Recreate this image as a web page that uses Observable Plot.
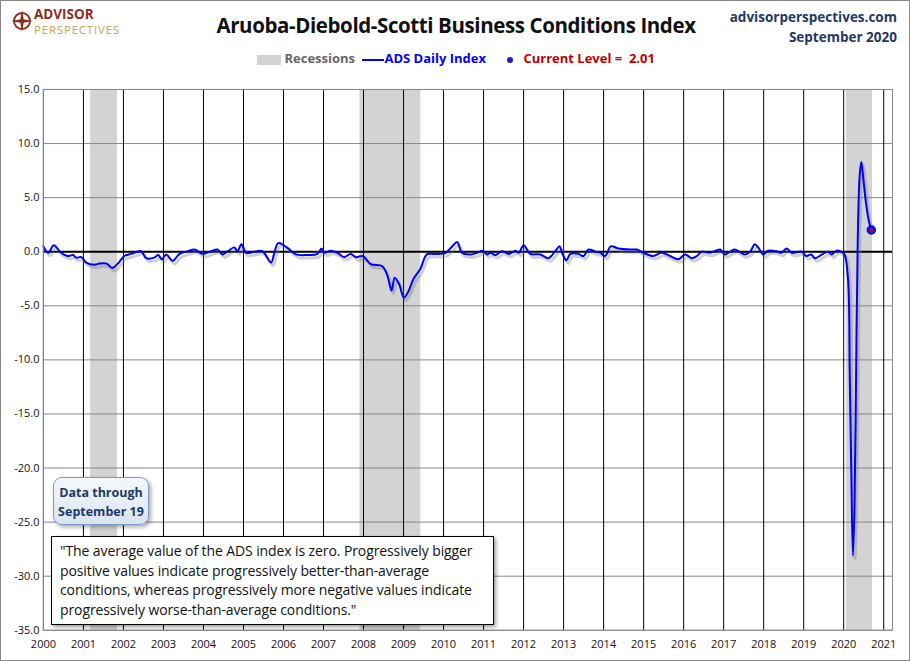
<!DOCTYPE html>
<html><head><meta charset="utf-8">
<script src="https://cdn.jsdelivr.net/npm/d3@7"></script>
<script src="https://cdn.jsdelivr.net/npm/@observablehq/plot@0.6"></script>
<style>
body{margin:0;background:#fff;font-family:"Open Sans",sans-serif;}
#wrap{position:relative;width:908px;height:659px;border:1px solid #888;overflow:hidden;background:#fff;}
.abs{position:absolute;}
#title{left:0;width:910px;top:10px;text-align:center;font-size:20.5px;font-weight:bold;color:#111;font-family:"Open Sans";letter-spacing:-0.4px;}
#site{right:12px;top:6px;text-align:right;color:#1F3864;font-weight:bold;font-size:13.5px;line-height:20px;}
#logo{left:10px;top:8px;}
#lg1{left:33px;top:6px;font-weight:bold;font-size:13.5px;color:#8B2E1E;line-height:15px;}
#lg2{left:33px;top:22px;font-size:11.5px;color:#C5A253;line-height:13px;letter-spacing:0.8px;}
#legend{top:48px;left:0;width:910px;text-align:center;font-size:13px;font-weight:bold;}
#chart{left:0;top:78px;}
#dt{left:52px;top:476px;width:96px;height:48px;border:1px solid #7a9cc6;border-radius:9px;background:linear-gradient(#f4f8fc,#d9e4f1);box-shadow:2px 2px 4px rgba(0,0,0,.35);color:#1F3864;font-weight:bold;font-size:12.5px;text-align:center;line-height:19px;padding-top:5px;box-sizing:border-box;}
#quote{left:50px;top:535px;width:443px;height:89px;border:1px solid #000;background:#fff;box-shadow:2px 2px 4px rgba(0,0,0,.4);font-size:14px;line-height:19.5px;padding:4px 8px;box-sizing:border-box;color:#111;letter-spacing:-0.1px;}
</style></head><body>
<div id="wrap">
<div id="logo" class="abs"><svg width="22" height="24"><circle cx="11" cy="12" r="8" fill="none" stroke="#8B2E1E" stroke-width="2"/><path d="M11 1 L13 12 L11 23 L9 12Z M0 12 L11 10 L22 12 L11 14Z" fill="#8B2E1E"/></svg></div>
<div id="lg1" class="abs">ADVISOR</div>
<div id="lg2" class="abs">PERSPECTIVES</div>
<div id="title" class="abs">Aruoba-Diebold-Scotti Business Conditions Index</div>
<div id="site" class="abs">advisorperspectives.com<br>September 2020</div>
<div id="legend" class="abs"><span style="display:inline-block;width:24px;height:10px;background:#d3d3d3;vertical-align:middle"></span> <span style="color:#666">Recessions</span> <span style="display:inline-block;width:22px;height:2px;background:#00f;vertical-align:middle;margin-left:4px"></span><span style="color:#00f">ADS Daily Index</span> <span style="display:inline-block;width:6px;height:6px;border-radius:50%;background:#2020c0;vertical-align:middle;margin:0 10px 0 18px"></span><span style="color:#C00000">Current Level = &nbsp;2.01</span></div>
<div id="chart" class="abs"></div>
<div id="dt" class="abs">Data through<br>September 19</div>
<div id="quote" class="abs">"The average value of the ADS index is zero. Progressively bigger positive values indicate progressively better-than-average conditions, whereas progressively more negative values indicate progressively worse-than-average conditions."</div>
</div>
<script>
const dates = [2000.0,2000.12,2000.26,2000.44,2000.61,2000.74,2000.82,2000.95,2001.07,2001.28,2001.40,2001.58,2001.72,2001.86,2002.02,2002.19,2002.44,2002.57,2002.77,2002.87,2002.96,2003.07,2003.23,2003.39,2003.61,2003.78,2003.98,2004.19,2004.35,2004.48,2004.61,2004.77,2004.85,2004.95,2005.06,2005.27,2005.47,2005.69,2005.77,2005.87,2006.10,2006.31,2006.61,2006.85,2006.95,2007.02,2007.18,2007.35,2007.51,2007.68,2007.81,2007.98,2008.18,2008.47,2008.60,2008.70,2008.78,2008.89,2009.01,2009.13,2009.25,2009.42,2009.58,2009.76,2009.93,2010.05,2010.22,2010.34,2010.46,2010.68,2010.84,2010.97,2011.09,2011.17,2011.30,2011.46,2011.63,2011.80,2011.88,2012.00,2012.17,2012.42,2012.62,2012.80,2012.90,2012.96,2013.07,2013.17,2013.37,2013.50,2013.62,2013.80,2013.92,2014.04,2014.18,2014.37,2014.67,2014.83,2015.00,2015.24,2015.45,2015.66,2015.87,2016.04,2016.20,2016.33,2016.45,2016.65,2016.91,2017.03,2017.16,2017.28,2017.53,2017.66,2017.78,2017.87,2017.99,2018.11,2018.32,2018.44,2018.57,2018.70,2018.95,2019.07,2019.19,2019.28,2019.48,2019.61,2019.70,2019.82,2019.94,2020.02,2020.11,2020.15,2020.19,2020.23,2020.27,2020.31,2020.35,2020.40,2020.44,2020.48,2020.56,2020.63,2020.69];
const values = [0.5,-0.1,0.6,-0.1,-0.4,-0.3,-0.55,-0.5,-1.0,-1.2,-1.1,-1.1,-1.5,-1.1,-0.4,-0.2,0.05,-0.6,-0.55,-0.3,-0.7,-0.25,-0.85,-0.25,0.05,0.2,-0.2,0.05,0.2,-0.25,0.05,0.4,0.05,0.7,-0.1,0,0.05,-1.0,-0.1,0.8,0.35,-0.25,-0.3,-0.2,0.3,-0.1,0.1,-0.1,-0.5,-0.2,-0.5,-0.4,-1.15,-1.35,-2.25,-3.6,-2.4,-3.0,-4.25,-3.6,-2.5,-1.6,-0.25,-0.2,-0.2,-0.1,0.5,0.9,-0.1,-0.25,-0.1,0.1,-0.25,-0.1,-0.3,0.05,-0.2,0.1,-0.1,0.6,-0.2,-0.25,-0.6,0.1,0.5,-0.1,-0.8,-0.2,-0.2,-0.4,0.2,0,-0.1,-0.4,0.5,0.3,0.2,0.2,-0.1,-0.4,-0.1,-0.4,-0.7,-0.25,-0.6,-0.4,0,-0.1,0.2,-0.25,0,0.2,-0.25,0,0.7,0.35,-0.25,0.1,0.05,-0.1,0.3,-0.1,0,-0.4,-0.25,-0.6,-0.2,0,-0.25,0.1,0.0,-0.25,-2.7,-11.3,-20.5,-28.1,-23.6,-11.3,1.0,7.1,8.3,7.1,4.4,2.8,2.01];
const recStart = [2001.18,2007.91,2020.07];
const recEnd = [2001.85,2009.43,2020.72];
const yearTicks = d3.range(2000,2022);
const yTicks = d3.range(-35,16,5);

const data = dates.map((d,i)=>({x:d,y:values[i]}));
const rec = recStart.map((s,i)=>({x1:s,x2:recEnd[i]}));
const last = data[data.length-1];

const chart = Plot.plot({
  width:910,height:580,marginLeft:42,marginRight:17,marginTop:10,marginBottom:28,
  style:{fontFamily:"Open Sans",fontSize:"11px",color:"#111"},
  x:{domain:[2000,2021.22],ticks:yearTicks,tickFormat:d=>String(d),tickSize:0,tickPadding:10,label:null},
  y:{domain:[-35,15],ticks:yTicks,tickFormat:d=>d.toFixed(1),tickSize:0,tickPadding:4,label:null},
  marks:[
    Plot.rectX(rec,{x1:"x1",x2:"x2",y1:-35,y2:15,fill:"#d3d3d3"}),
    Plot.ruleY(yTicks,{stroke:"#888",strokeWidth:1}),
    Plot.ruleX(yearTicks,{stroke:"#000",strokeWidth:1}),
    Plot.ruleY([0],{stroke:"#000",strokeWidth:2}),
    Plot.line(data,{x:"x",y:"y",stroke:"#777",strokeOpacity:0.35,strokeWidth:3,dx:2,dy:3,curve:"catmull-rom"}),
    Plot.line(data,{x:"x",y:"y",stroke:"#0000ff",strokeWidth:2,curve:"catmull-rom"}),
    Plot.dot([last],{x:"x",y:"y",r:4,fill:"#2020c0",stroke:"#0000ff"}),
    Plot.dot([last],{x:"x",y:"y",r:1.5,fill:"#e00000"}),
    Plot.frame({stroke:"#888"})
  ]
});
document.getElementById("chart").appendChild(chart);
</script>
</body></html>
